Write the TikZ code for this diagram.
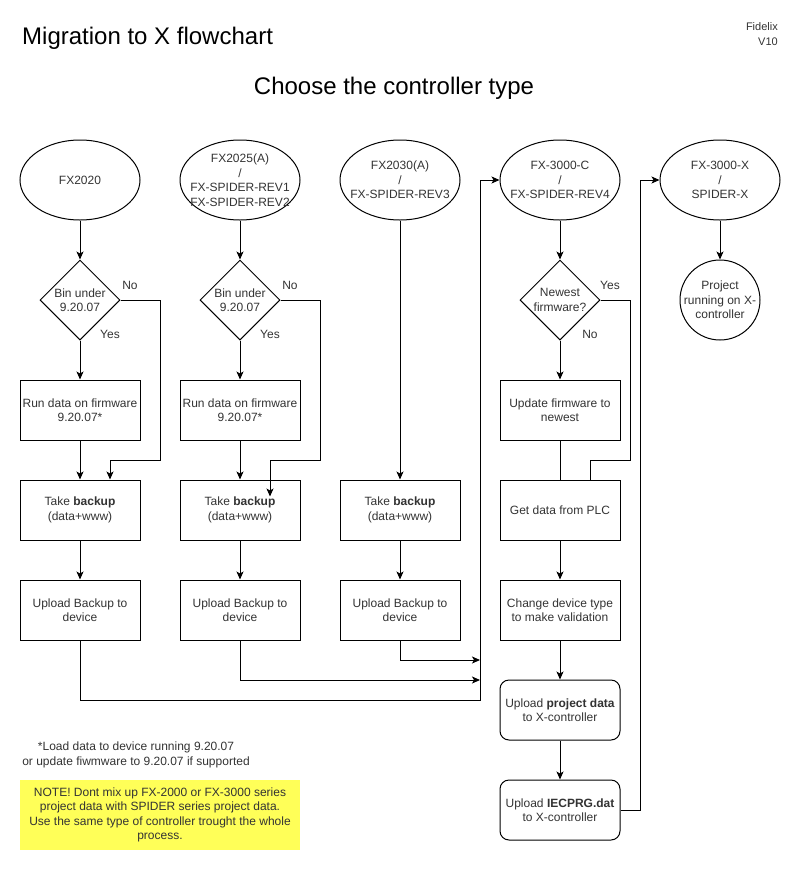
\documentclass[tikz,border=0pt]{standalone}
\usepackage{fontspec}
\setmainfont{Liberation Sans}
\usetikzlibrary{shapes.geometric,arrows.meta}
\definecolor{txt}{HTML}{333333}
\definecolor{ylw}{HTML}{FFFF58}
\tikzset{
 base/.style={font=\fontsize{12}{14.5}\selectfont, text=txt},
 box/.style={draw, line width=1pt, minimum width=120pt, minimum height=60pt, inner sep=1pt, align=center, base},
 rbox/.style={box, rounded corners=9pt},
 ell/.style={draw, ellipse, line width=1pt, minimum width=120pt, minimum height=80pt, inner sep=0pt},
 dia/.style={draw, diamond, line width=1pt, minimum width=80pt, minimum height=80pt, inner sep=0pt},
 circ/.style={draw, circle, line width=1pt, minimum size=80pt, inner sep=0pt},
 lbl/.style={base, align=center, inner sep=0pt},
 ttl/.style={inner sep=0pt, font=\fontsize{24}{28}\selectfont},
 arr/.style={line width=1pt, -{Stealth[length=8pt,width=7pt,inset=2pt]}},
 ln/.style={line width=1pt},
}
\begin{document}
\begin{tikzpicture}[x=1pt,y=-1pt]
\useasboundingbox (0,0) rectangle (802,871);

% titles
\node[ttl, anchor=base west] (title) at (22,44) {Migration to X flowchart};
\node[ttl, anchor=base] (sub) at (394,94) {Choose the controller type};
\node[anchor=north east, inner sep=0pt, align=right, text=txt, font=\fontsize{11}{15}\selectfont] (fid) at (778,22) {Fidelix\\V10};

% ellipses
\node[ell] (e1) at (80,180) {};
\node[lbl] (e1t) at (e1) {FX2020};
\node[ell] (e2) at (240,180) {};
\node[lbl] (e2t) at (e2) {FX2025(A)\\/\\FX-SPIDER-REV1\\FX-SPIDER-REV2};
\node[ell] (e3) at (400,180) {};
\node[lbl] (e3t) at (e3) {FX2030(A)\\/\\FX-SPIDER-REV3};
\node[ell] (e4) at (560,180) {};
\node[lbl] (e4t) at (e4) {FX-3000-C\\/\\FX-SPIDER-REV4};
\node[ell] (e5) at (720,180) {};
\node[lbl] (e5t) at (e5) {FX-3000-X\\/\\SPIDER-X};

% diamonds
\node[dia] (d1) at (80,300) {};
\node[lbl] (d1t) at (d1) {Bin under\\9.20.07};
\node[dia] (d2) at (240,300) {};
\node[lbl] (d2t) at (d2) {Bin under\\9.20.07};
\node[dia] (d4) at (560,300) {};
\node[lbl] (d4t) at (d4) {Newest\\firmware?};

% circle
\node[circ] (c5) at (720,300) {};
\node[lbl] (c5t) at (c5) {Project\\running on X-\\controller};

% boxes
\node[box] (r1) at (80,410) {Run data on firmware\\9.20.07*};
\node[box] (r2) at (240,410) {Run data on firmware\\9.20.07*};
\node[box] (f4) at (560,410) {Update firmware to\\newest};

\node[box] (b1) at (80,510) {Take \textbf{backup}\\(data+www)};
\node[box] (b2) at (240,510) {Take \textbf{backup}\\(data+www)};
\node[box] (b3) at (400,510) {Take \textbf{backup}\\(data+www)};
\node[box] (g4) at (560,510) {Get data from PLC};

\node[box] (u1) at (80,610) {Upload Backup to\\device};
\node[box] (u2) at (240,610) {Upload Backup to\\device};
\node[box] (u3) at (400,610) {Upload Backup to\\device};
\node[box] (v4) at (560,610) {Change device type\\to make validation};

\node[rbox] (p4) at (560,710) {Upload \textbf{project data}\\to X-controller};
\node[rbox] (i4) at (560,810) {Upload \textbf{IECPRG.dat}\\to X-controller};

% labels
\node[lbl] (no1) at (130,285) {No};
\node[lbl] (yes1) at (110,334) {Yes};
\node[lbl] (no2) at (290,285) {No};
\node[lbl] (yes2) at (270,334) {Yes};
\node[lbl] (yes4) at (610,285) {Yes};
\node[lbl] (no4) at (590,334) {No};

% footnote and note
\node[lbl] (fn) at (136,755) {*Load data to device running 9.20.07\\or update fiwmware to 9.20.07 if supported};
\node[lbl, fill=ylw, minimum width=280pt, minimum height=70pt] (note) at (160,815) {NOTE! Dont mix up FX-2000 or FX-3000 series\\project data with SPIDER series project data.\\Use the same type of controller trought the whole\\process.};

% coordinates
\coordinate (n1) at (160,460);
\coordinate (n2) at (320,460);
\coordinate (n4) at (630,460);
\coordinate (j1) at (480,700);
\coordinate (j2) at (480,680);
\coordinate (j3) at (480,660);
\coordinate (j5) at (640,180);

% column 1
\draw[arr] (e1.south) -- (d1.north);
\draw[arr] (d1.south) -- (r1.north);
\draw[arr] (d1.east) -| (n1) -| ([xshift=30pt]b1.north);
\draw[arr] (r1.south) -- (b1.north);
\draw[arr] (b1.south) -- (u1.north);
\draw[arr] (u1.south) |- (j1) |- (e4.west);

% column 2
\draw[arr] (e2.south) -- (d2.north);
\draw[arr] (d2.south) -- (r2.north);
\draw[arr] (d2.east) -| (n2) -| ([xshift=30pt,yshift=-17pt]b2.north);
\draw[arr] (r2.south) -- (b2.north);
\draw[arr] (b2.south) -- (u2.north);
\draw[arr] (u2.south) |- (j2);

% column 3
\draw[arr] (e3.south) -- (b3.north);
\draw[arr] (b3.south) -- (u3.north);
\draw[arr] (u3.south) |- (j3);

% column 4
\draw[arr] (e4.south) -- (d4.north);
\draw[arr] (d4.south) -- (f4.north);
\draw[ln] (d4.east) -| (n4) -| ([xshift=30pt]g4.north);
\draw[ln] (f4.south) -- (g4.north);
\draw[arr] (g4.south) -- (v4.north);
\draw[arr] (v4.south) -- (p4.north);
\draw[arr] (p4.south) -- (i4.north);
\draw[arr] (i4.east) -| (j5) -- (e5.west);

% column 5
\draw[arr] (e5.south) -- (c5.north);
\end{tikzpicture}
\end{document}
